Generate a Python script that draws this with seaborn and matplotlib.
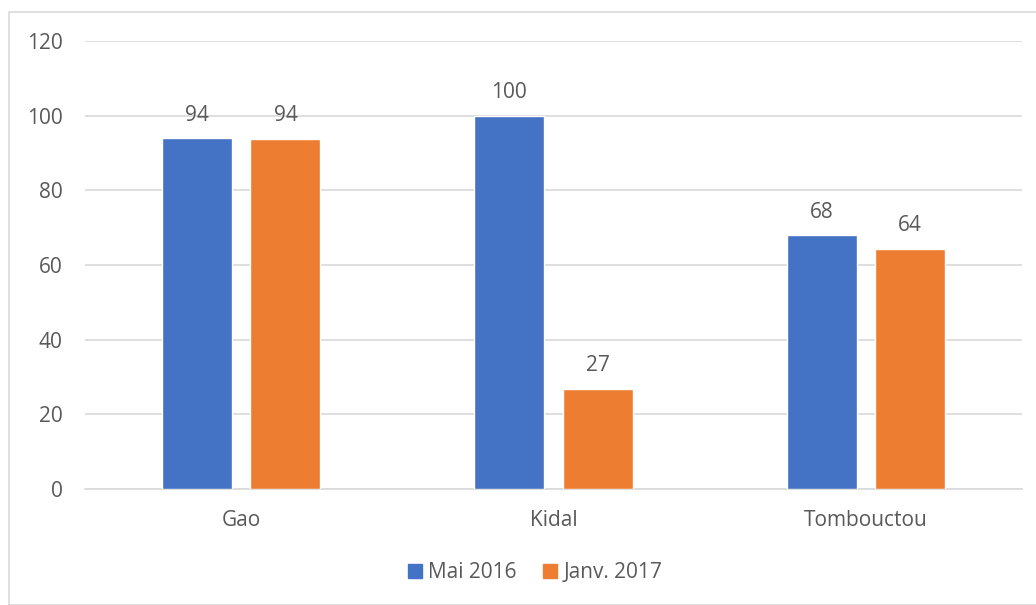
import matplotlib
matplotlib.use("Agg")
import matplotlib.pyplot as plt
import seaborn as sns
import pandas as pd
from matplotlib.patches import Rectangle

categories = ["Gao", "Kidal", "Tombouctou"]
series_names = ["Mai 2016", "Janv. 2017"]
mai_2016 = [94, 100, 68]
janv_2017 = [93.8, 26.8, 64.3]
labels_mai = ["94", "100", "68"]
labels_janv = ["94", "27", "64"]
yticks = [0, 20, 40, 60, 80, 100, 120]

df = pd.DataFrame({
    "Region": categories * 2,
    "Serie": [series_names[0]] * 3 + [series_names[1]] * 3,
    "Valeur": mai_2016 + janv_2017,
})

sns.set_theme(style="white")
plt.rcParams['font.family'] = ['Open Sans', 'DejaVu Sans']
txt = "#595959"
fs = 15

fig = plt.figure(figsize=(10.36, 6.05), dpi=100)
fig.patches.append(Rectangle((9 / 1036, 0), 1.2, 1 - 12 / 605, transform=fig.transFigure,
                             fill=False, edgecolor="#D9D9D9", linewidth=1.2, zorder=0))
ax = fig.add_axes([85 / 1036, 1 - 489 / 605, (1022 - 85) / 1036, (489 - 41) / 605])

sns.barplot(data=df, x="Region", y="Valeur", hue="Serie", order=categories,
            hue_order=series_names, palette=["#4472C4", "#ED7D31"],
            width=0.567, gap=0.21, saturation=1, ax=ax, legend=False, zorder=3)

for cont, labs in zip(ax.containers, [labels_mai, labels_janv]):
    ax.bar_label(cont, labels=labs, padding=9, color=txt, fontsize=fs)

ax.set_ylim(0, 120)
ax.set_xlim(-0.5, 2.5)
ax.set_yticks(yticks)
ax.set_yticklabels([str(v) for v in yticks], color=txt, fontsize=fs)
ax.tick_params(axis="y", length=0, pad=16)
ax.tick_params(axis="x", length=0, pad=15, labelcolor=txt, labelsize=fs)
ax.yaxis.grid(True, color="#D9D9D9", linewidth=1.2, zorder=0)
ax.set_axisbelow(True)
for s in ["top", "right", "left"]:
    ax.spines[s].set_visible(False)
ax.spines["bottom"].set_color("#D9D9D9")
ax.spines["bottom"].set_linewidth(1.2)
ax.set_xlabel("")
ax.set_ylabel("")

handles = [Rectangle((0, 0), 1, 1, color="#4472C4"), Rectangle((0, 0), 1, 1, color="#ED7D31")]
leg = fig.legend(handles, series_names, loc="center", bbox_to_anchor=(535 / 1036, 1 - 573 / 605),
                 ncol=2, frameon=False, fontsize=fs, handlelength=0.65, handleheight=0.65,
                 handletextpad=0.3, columnspacing=1.3)
for t in leg.get_texts():
    t.set_color(txt)

fig.savefig("out.png", dpi=100)
